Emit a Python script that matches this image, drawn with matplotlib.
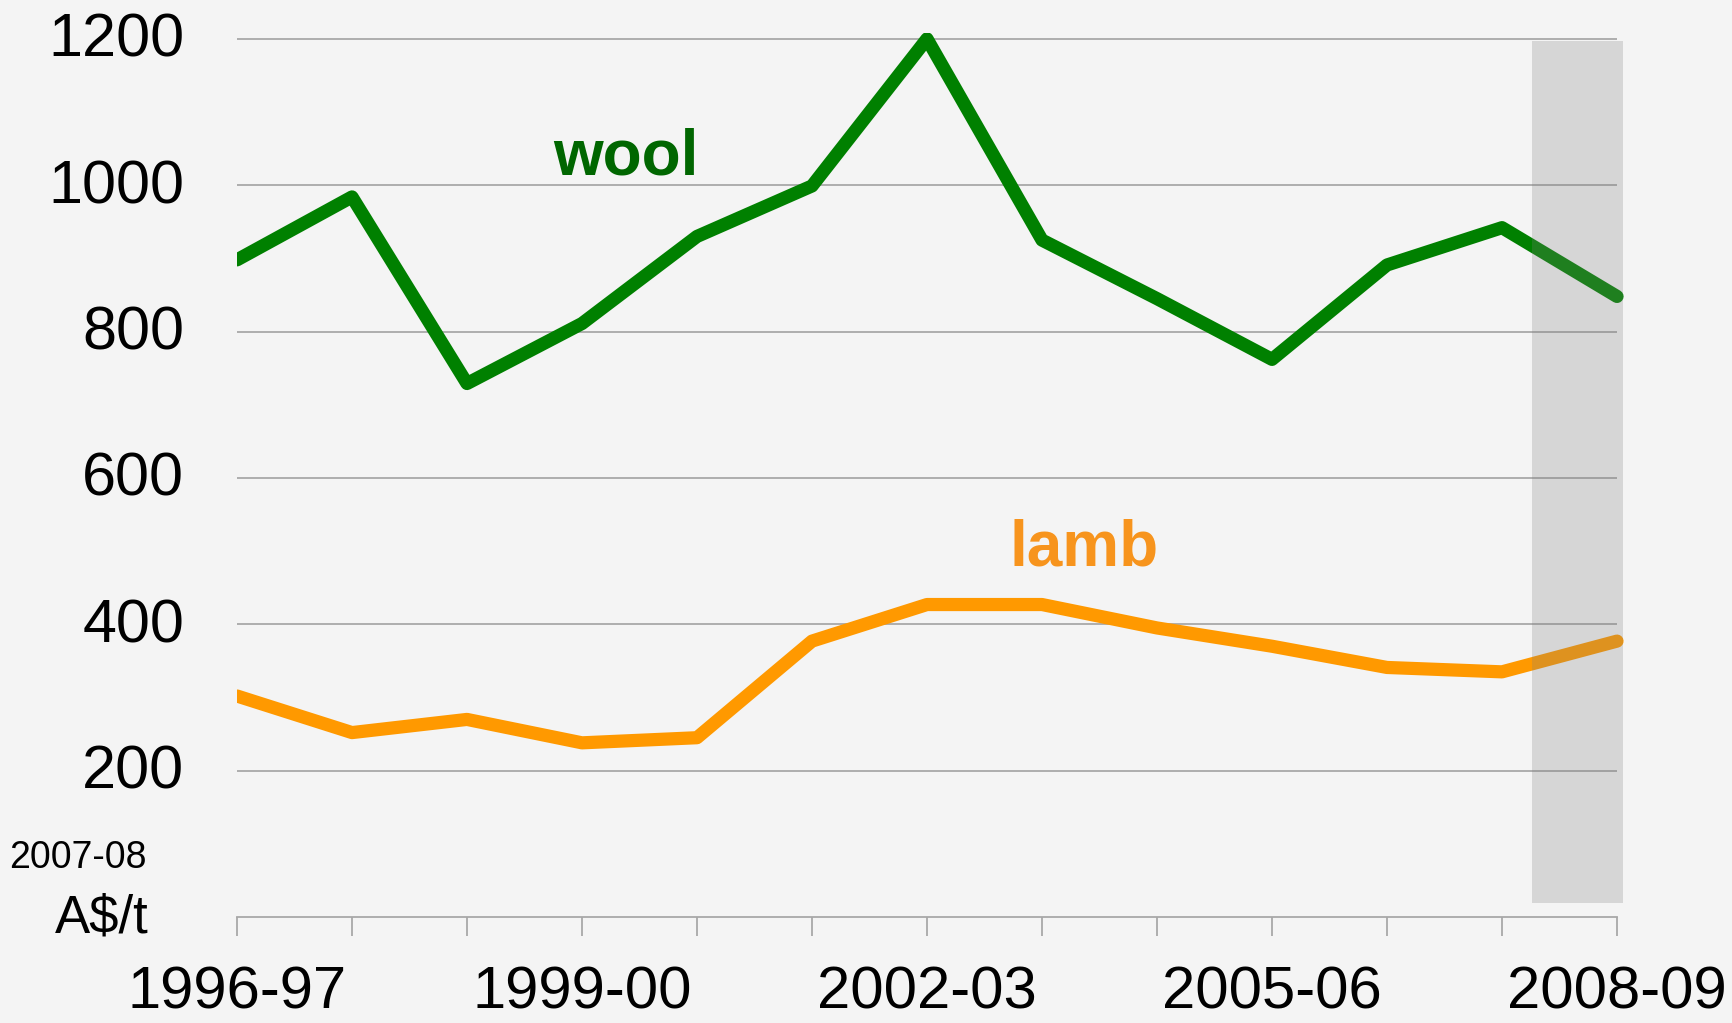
import matplotlib
matplotlib.use("Agg")
import matplotlib.pyplot as plt
import matplotlib.transforms as mtransforms
from matplotlib.patches import Rectangle

plt.rcParams['font.family'] = ['Liberation Sans', 'DejaVu Sans']

years = ["1996-97", "1997-98", "1998-99", "1999-00", "2000-01", "2001-02",
         "2002-03", "2003-04", "2004-05", "2005-06", "2006-07", "2007-08", "2008-09"]
wool = [898, 984, 729, 811, 930, 999, 1200, 925, 845, 762, 891, 942, 848]
lamb = [302, 252, 270, 238, 245, 377, 427, 427, 395, 370, 341, 335, 377]
yticks = [200, 400, 600, 800, 1000, 1200]
shown_labels = ["1996-97", "1999-00", "2002-03", "2005-06", "2008-09"]

BG = '#f4f4f4'
GREEN = '#008000'
ORANGE = '#ff9900'

W, H = 1732, 1023
fig = plt.figure(figsize=(W / 100, H / 100), dpi=100, facecolor=BG)
left_px, right_px, top_px, bottom_px = 237, 1628.5, 33, 917
ax = fig.add_axes([left_px / W, 1 - bottom_px / H,
                   (right_px - left_px) / W, (bottom_px - top_px) / H])
ax.set_facecolor(BG)

x = list(range(len(years)))
n = len(years) - 1
ax.set_xlim(0, 12.1)
ax.set_ylim(0, 1208)

# gridlines
ax.hlines(yticks, 0, n, colors='#a8a8a8', linewidth=1.3, zorder=1)

ax.plot(x, wool, color=GREEN, lw=9.5, solid_capstyle='round',
        solid_joinstyle='round', zorder=3)
ax.plot(x, lamb, color=ORANGE, lw=9.5, solid_capstyle='round',
        solid_joinstyle='round', zorder=3)

# forecast shading
ax.add_patch(Rectangle((11.26, 19), 0.79, 1178, facecolor='#7e7e7e',
                       alpha=0.25, edgecolor='none', zorder=5))

ax.text(2.75, 1015, "wool", color='#006600', fontsize=46, fontweight='bold',
        ha='left', va='baseline', zorder=4)
ax.text(6.72, 480, "lamb", color='#f7941d', fontsize=46, fontweight='bold',
        ha='left', va='baseline', zorder=4)

for s in ['top', 'right', 'left']:
    ax.spines[s].set_visible(False)
ax.spines['bottom'].set_color('#a8a8a8')
ax.spines['bottom'].set_linewidth(1.3)
ax.spines['bottom'].set_bounds(0, n)

ax.set_yticks(yticks)
ax.set_yticklabels([str(v) for v in yticks])
ax.tick_params(axis='y', length=0, pad=38, labelsize=44, colors='black')
shift = mtransforms.ScaledTranslation(0, 4 / 100, fig.dpi_scale_trans)
for lbl in ax.get_yticklabels():
    lbl.set_transform(lbl.get_transform() + shift)

ax.set_xticks(x)
ax.set_xticklabels([y if y in shown_labels else '' for y in years])
ax.tick_params(axis='x', length=14, width=1.3, color='#a8a8a8', direction='out',
               pad=21, labelsize=43, labelcolor='black')

fig.text(147 / W, 1 - 868 / H, "2007-08", fontsize=27, ha='right', va='baseline')
fig.text(149 / W, 1 - 932 / H, "A$/t", fontsize=38, ha='right', va='baseline')

fig.savefig("out.png", dpi=100, facecolor=BG)
